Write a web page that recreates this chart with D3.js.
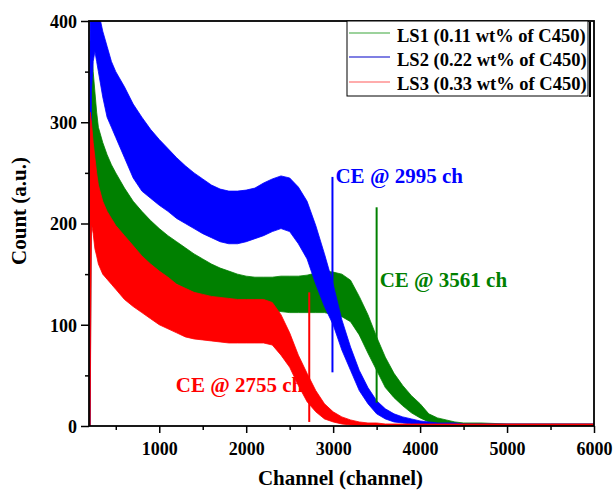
<!DOCTYPE html>
<html><head><meta charset="utf-8">
<script src="https://cdn.jsdelivr.net/npm/d3@7"></script>
<style>body{margin:0;background:#fff}svg text{font-family:"Liberation Serif","Times New Roman",serif;font-weight:bold}</style>
</head><body><svg id="c" width="616" height="491"></svg>
<script>
// channel sample positions
const channels = [195,205,220,240,260,280,300,350,400,450,500,600,700,800,900,1000,1100,1200,1300,1400,1500,1600,1700,1800,1900,2000,2100,2200,2300,2400,2500,2600,2700,2800,2900,3000,3100,3200,3300,3400,3500,3600,3700,3800,3900,4000,4100,4200,4300,4400,4500,4700,5000,5500,6000];
// LS1 (green) upper / lower envelope of the noisy spectrum
const ls1Hi = [0,380,380,350,330,310,295,280,268,258,250,235,222,212,203,195,188,182,176,170,165,160,156,153,150,148,147,147,147,148,148,148,149,151,153,152,150,144,128,110,88,68,52,40,30,22,12,8,6,4,3,3,2,2,2];
const ls1Lo = [0,0,250,240,230,220,212,215,205,197,190,180,172,165,158,150,145,140,135,130,127,124,121,119,117,116,115,114,113,113,112,112,112,112,112,110,108,103,90,72,55,38,28,20,13,8,4,2,1,0,0,0,0,0,0];
// LS2 (blue)
const ls2Hi = [0,420,420,420,420,420,410,390,375,360,350,335,318,305,293,283,274,265,257,250,244,238,234,232,232,233,235,240,244,247,245,236,222,198,170,140,105,78,55,38,25,17,12,9,7,5,4,3,3,3,2,2,2,2,2];
const ls2Lo = [0,0,330,360,370,360,350,325,305,295,285,265,245,232,225,218,212,205,200,195,190,186,182,180,180,182,185,188,192,195,192,180,165,140,118,100,75,55,35,22,12,7,4,3,2,1,1,0,0,0,0,0,0,0,0];
// LS3 (red)
const ls3Hi = [0,310,300,280,265,250,238,222,212,205,198,188,178,168,160,153,147,140,136,132,130,128,127,126,125,125,125,125,122,110,92,70,52,35,22,14,9,6,4,3,3,2,2,2,2,2,2,2,2,2,2,2,2,2,2];
const ls3Lo = [0,0,200,190,175,168,160,150,145,140,135,125,118,112,106,100,96,92,88,86,85,84,83,82,82,82,82,82,80,70,58,40,24,14,7,4,2,1,0,0,0,0,0,0,0,0,0,0,0,0,0,0,0,0,0];

const seriesNames = ["LS1 (0.11 wt% of C450)","LS2 (0.22 wt% of C450)","LS3 (0.33 wt% of C450)"];
const seriesColors = ["#008000","#0000ff","#ff0000"];
const legendColors = ["#3aa63a","#0000c8","#ff5a5a"];

// Compton edge markers: drawn channel, bottom and top count, label
const ceChannel = [3500,2992,2725];
const ceBottom = [23,53,4];
const ceTop = [216,246,132];
const ceLabels = ["CE @ 3561 ch","CE @ 2995 ch","CE @ 2755 ch"];

const xTicks = [1000,2000,3000,4000,5000,6000];
const yTicks = [0,100,200,300,400];

const svg = d3.select("#c");
const L=89, R=594, T=21, B=426;
const x = d3.scaleLinear().domain([192,6000]).range([L,R]);
const y = d3.scaleLinear().domain([0,400]).range([B,T]);

svg.append("clipPath").attr("id","clip").append("rect")
  .attr("x",L).attr("y",T).attr("width",R-L).attr("height",B-T);

const plot = svg.append("g").attr("clip-path","url(#clip)");
const his=[ls1Hi,ls2Hi,ls3Hi], los=[ls1Lo,ls2Lo,ls3Lo];
his.forEach((hi,s)=>{
  const pts = channels.map((c,i)=>({c,hi:hi[i],lo:los[s][i]}));
  plot.append("path").datum(pts)
    .attr("d", d3.area().x(d=>x(d.c)).y0(d=>y(d.lo)).y1(d=>y(d.hi)))
    .attr("fill",seriesColors[s]).attr("stroke",seriesColors[s]).attr("stroke-width",0.8);
});

// CE lines
ceChannel.forEach((c,i)=>{
  plot.append("line").attr("x1",x(c)).attr("x2",x(c)).attr("y1",y(ceBottom[i])).attr("y2",y(ceTop[i]))
    .attr("stroke",seriesColors[i]).attr("stroke-width",2);
});
// CE labels
const lab = svg.append("g").style("font-size","21px");
lab.append("text").attr("x",x(ceChannel[0])+3).attr("y",287).attr("fill",seriesColors[0]).text(ceLabels[0]);
lab.append("text").attr("x",x(ceChannel[1])+3).attr("y",183).attr("fill",seriesColors[1]).text(ceLabels[1]);
lab.append("text").attr("x",x(ceChannel[2])-6).attr("y",392).attr("fill",seriesColors[2]).attr("text-anchor","end").text(ceLabels[2]);

// axes
const xAxis = svg.append("g").attr("transform",`translate(0,${B})`)
  .call(d3.axisBottom(x).tickValues(xTicks).tickSize(7).tickFormat(d3.format("d")));
const xMinor = svg.append("g").attr("transform",`translate(0,${B})`)
  .call(d3.axisBottom(x).tickValues([500,1500,2500,3500,4500,5500]).tickSize(4).tickFormat(""));
const yAxis = svg.append("g").attr("transform",`translate(${L},0)`)
  .call(d3.axisLeft(y).tickValues(yTicks).tickSize(8).tickFormat(d3.format("d")));
const yMinor = svg.append("g").attr("transform",`translate(${L},0)`)
  .call(d3.axisLeft(y).tickValues([50,150,250,350]).tickSize(4).tickFormat(""));
[xAxis,xMinor,yAxis,yMinor].forEach(g=>{
  g.select(".domain").remove();
  g.selectAll(".tick line").attr("stroke","#000").attr("stroke-width",1.5);
  g.selectAll("text").style("font-size","18px").attr("fill","#000")
   .style("font-family",'"Liberation Serif",serif').style("font-weight","bold");
});
xAxis.selectAll("text").attr("dy",null).attr("y",29);
yAxis.selectAll("text").attr("x",-12).attr("dy","0.35em");

// frame
svg.append("rect").attr("x",L).attr("y",T).attr("width",R-L).attr("height",B-T)
  .attr("fill","none").attr("stroke","#000").attr("stroke-width",1.8);

// axis titles
svg.append("text").attr("x",(L+R)/2-1).attr("y",485).attr("text-anchor","middle")
  .style("font-size","21px").text("Channel (channel)");
svg.append("text").attr("transform","translate(26,211) rotate(-90)").attr("text-anchor","middle")
  .style("font-size","21px").text("Count (a.u.)");

// legend
const lg = svg.append("g");
lg.append("line").attr("x1",590).attr("x2",590).attr("y1",22).attr("y2",97).attr("stroke","#000").attr("stroke-width",2);
lg.append("rect").attr("x",347).attr("y",21).attr("width",241).attr("height",75)
  .attr("fill","#fff").attr("stroke","#000").attr("stroke-width",1);
const rowY=[33,57,82], baseY=[42,66,90];
seriesNames.forEach((n,i)=>{
  lg.append("line").attr("x1",349).attr("x2",390).attr("y1",rowY[i]).attr("y2",rowY[i])
    .attr("stroke",legendColors[i]).attr("stroke-width",1.2);
  lg.append("text").attr("x",397).attr("y",baseY[i]).style("font-size","18.5px").attr("fill","#000").text(n);
});
</script></body></html>
